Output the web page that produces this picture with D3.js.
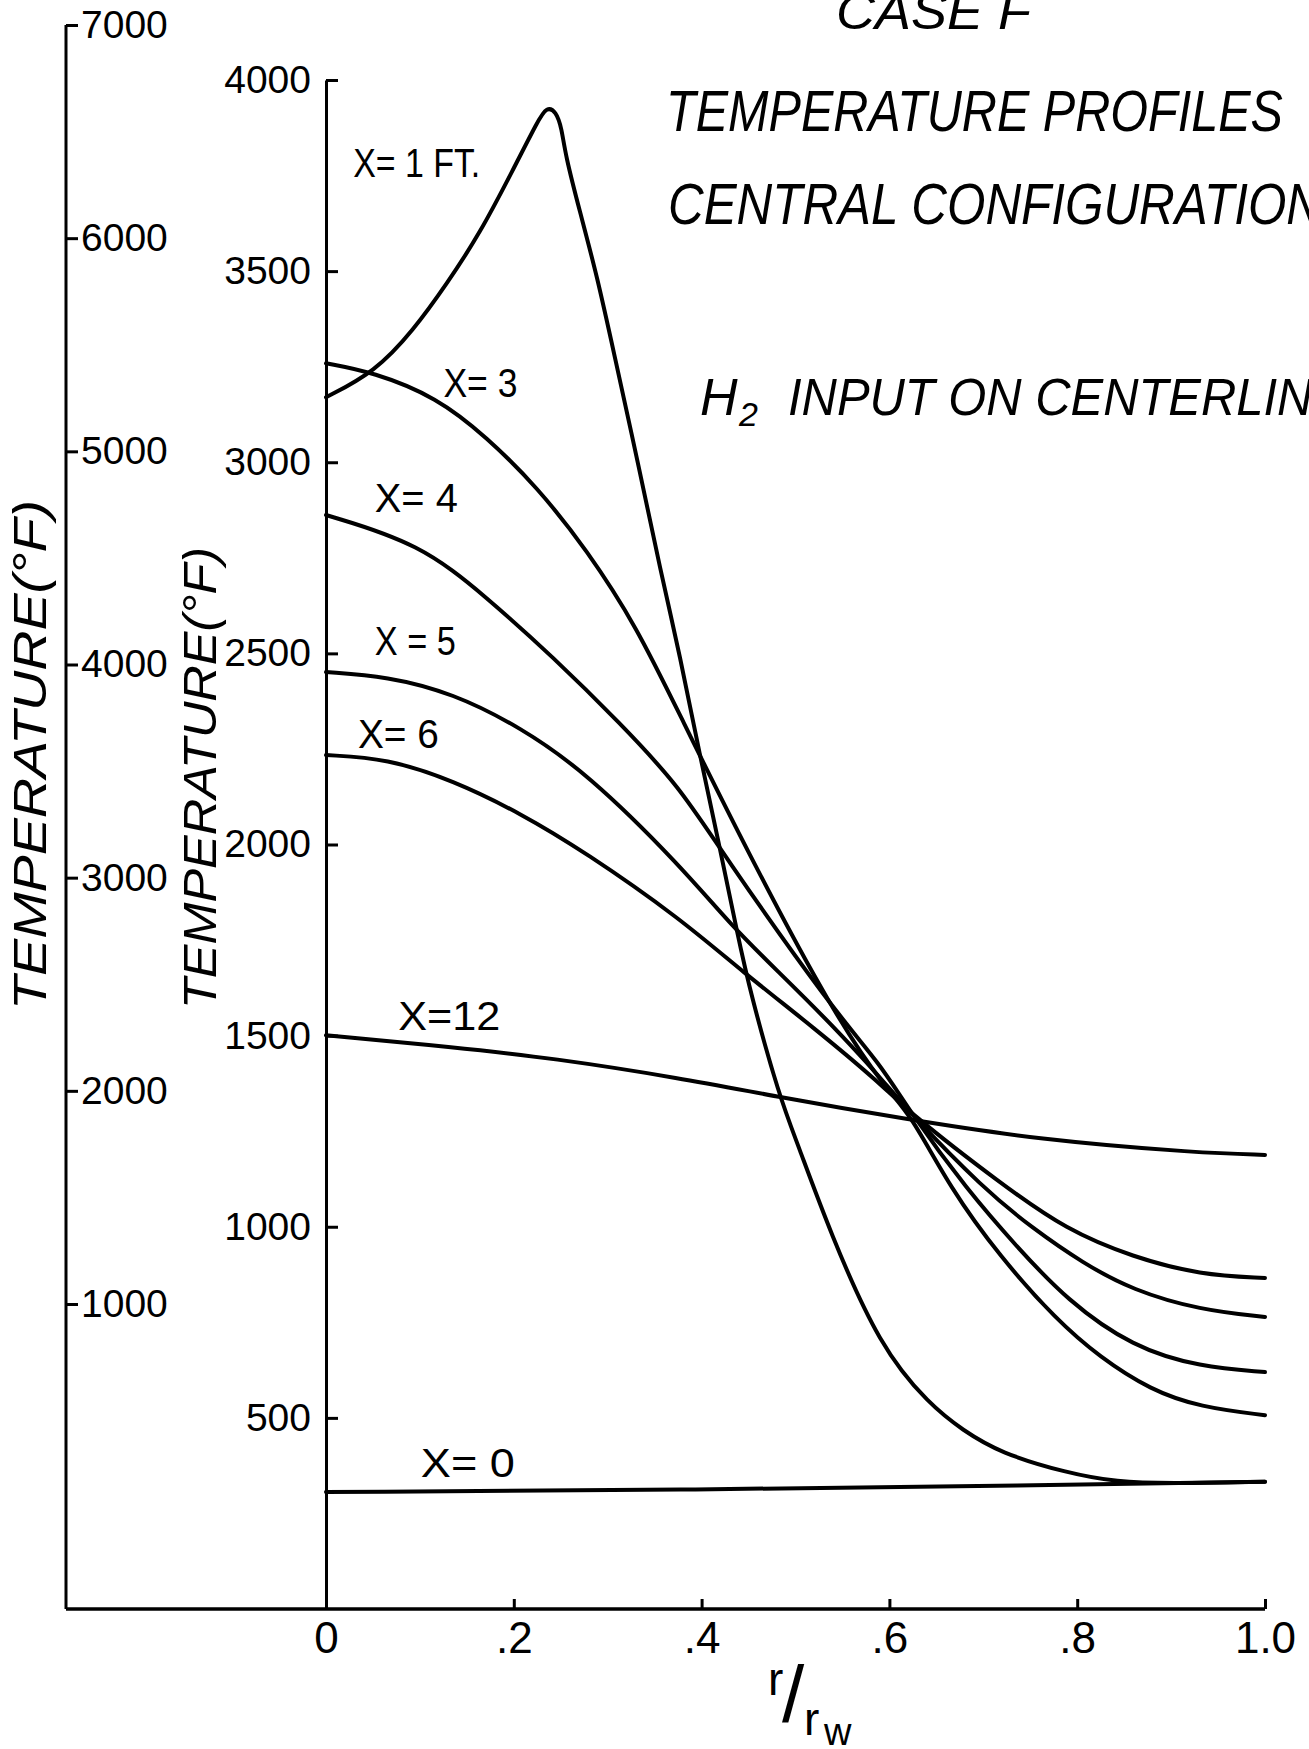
<!DOCTYPE html>
<html>
<head>
<meta charset="utf-8">
<script src="https://cdn.jsdelivr.net/npm/d3@7"></script>
<style>
  html, body { margin: 0; padding: 0; background: #fff; }
  svg { display: block; }
  text { font-family: "Liberation Sans", Arial, sans-serif; fill: #000; }
</style>
</head>
<body>
<svg id="chart"></svg>
<script>
// ---- data (r/rw, temperature in deg F on the inner scale) ----
const rX1 = [0, 0.052, 0.093, 0.129, 0.164, 0.199, 0.226, 0.235, 0.245, 0.251, 0.255, 0.27, 0.289, 0.306, 0.334, 0.356, 0.377, 0.398, 0.42, 0.438, 0.452, 0.483, 0.502, 0.537, 0.59, 0.643, 0.678, 0.718, 0.789, 0.842, 0.9, 1.0];
const tX1 = [3170, 3236, 3345, 3468, 3599, 3764, 3895, 3930, 3918, 3874, 3803, 3659, 3484, 3293, 2979, 2718, 2495, 2234, 1985, 1768, 1611, 1339, 1219, 984, 685, 534, 468, 408, 356, 332, 328, 333];

const rX3 = [0, 0.05, 0.118, 0.171, 0.225, 0.278, 0.331, 0.377, 0.448, 0.54, 0.597, 0.622, 0.665, 0.718, 0.778, 0.824, 0.878, 0.931, 1.0];
const tX3 = [3259, 3236, 3170, 3066, 2935, 2770, 2569, 2338, 1985, 1559, 1358, 1297, 1100, 921, 756, 659, 573, 528, 507];

const rX4 = [0, 0.1, 0.171, 0.242, 0.313, 0.377, 0.42, 0.54, 0.59, 0.622, 0.683, 0.736, 0.789, 0.859, 0.931, 1.0];
const tX4 = [2862, 2788, 2647, 2490, 2318, 2150, 1985, 1567, 1428, 1300, 1096, 947, 808, 685, 633, 620];

const rX5 = [0, 0.065, 0.135, 0.207, 0.278, 0.377, 0.433, 0.483, 0.537, 0.59, 0.622, 0.7, 0.753, 0.806, 0.859, 0.931, 1.0];
const tX5 = [2451, 2440, 2396, 2307, 2187, 1946, 1784, 1664, 1533, 1392, 1297, 1100, 995, 905, 834, 782, 764];

const rX6 = [0, 0.065, 0.135, 0.207, 0.276, 0.377, 0.444, 0.519, 0.59, 0.622, 0.718, 0.789, 0.859, 0.931, 1.0];
const tX6 = [2234, 2225, 2168, 2082, 1980, 1807, 1666, 1522, 1376, 1297, 1114, 991, 921, 874, 866];

const rX12 = [0, 0.135, 0.242, 0.377, 0.483, 0.611, 0.76, 0.931, 1.0];
const tX12 = [1501, 1470, 1441, 1389, 1339, 1284, 1227, 1193, 1188];

const rX0 = [0, 0.377, 0.76, 1.0];
const tX0 = [306, 311, 324, 333];

const seriesLabels = ["X= 1 FT.", "X= 3", "X= 4", "X = 5", "X= 6", "X=12", "X= 0"];
// label anchors in data units (r/rw, deg F)
const labelR = [0.029, 0.125, 0.052, 0.052, 0.034, 0.077, 0.101];
const labelT = [3746, 3170, 2869, 2495, 2252, 1515, 345];

const xTicks = [0, 0.2, 0.4, 0.6, 0.8, 1.0];
const xTickLabels = ["0", ".2", ".4", ".6", ".8", "1.0"];
const innerTicks = [500, 1000, 1500, 2000, 2500, 3000, 3500, 4000];
const outerTicks = [1000, 2000, 3000, 4000, 5000, 6000, 7000];

// ---- layout ----
const width = 1309;
const height = 1749;
const outerX = 66;
const font = '"Liberation Sans", Arial, sans-serif';

const svg = d3.select("#chart").attr("width", width).attr("height", height);
svg.append("rect").attr("width", width).attr("height", height).attr("fill", "#fff");

const x = d3.scaleLinear().domain([0, 1]).range([326, 1265]);
const y = d3.scaleLinear().domain([0, 4000]).range([1609, 80]);
const yOuter = d3.scaleLinear().domain([1000, 7000]).range([1304, 25]);

// outer axis
svg.append("line")
  .attr("x1", outerX).attr("x2", outerX)
  .attr("y1", yOuter(7000)).attr("y2", y(0))
  .attr("stroke", "#000").attr("stroke-width", 3);

svg.append("g")
  .attr("transform", `translate(${outerX},0)`)
  .call(d3.axisRight(yOuter).tickValues(outerTicks).tickFormat(d3.format("d")).tickSize(12).tickPadding(3))
  .call((g) => g.select(".domain").remove())
  .call((g) => g.selectAll(".tick line").attr("stroke-width", 3))
  .attr("font-size", 39)
  .attr("font-family", font);

// inner axis
svg.append("g")
  .attr("transform", `translate(${x(0)},0)`)
  .call(
    d3.axisLeft(y)
      .tickValues(innerTicks)
      .tickFormat(d3.format("d"))
      .tickSizeInner(-12)
      .tickSizeOuter(0)
      .tickPadding(15)
  )
  .call((g) => g.select(".domain").attr("stroke-width", 3))
  .call((g) => g.selectAll(".tick line").attr("stroke-width", 3))
  .attr("font-size", 39)
  .attr("font-family", font);

// x axis
svg.append("line")
  .attr("x1", outerX).attr("x2", x(1))
  .attr("y1", y(0)).attr("y2", y(0))
  .attr("stroke", "#000").attr("stroke-width", 3.5);

svg.append("g")
  .attr("transform", `translate(0,${y(0)})`)
  .call(
    d3.axisBottom(x)
      .tickValues(xTicks)
      .tickFormat((d, i) => xTickLabels[i])
      .tickSizeInner(-10)
      .tickSizeOuter(0)
      .tickPadding(13)
  )
  .call((g) => g.select(".domain").remove())
  .call((g) => g.selectAll(".tick line").attr("stroke-width", 3))
  .attr("font-size", 44)
  .attr("font-family", font);

// curves
const series = [
  [rX1, tX1], [rX3, tX3], [rX4, tX4], [rX5, tX5], [rX6, tX6], [rX12, tX12], [rX0, tX0]
].map(([rs, ts]) => rs.map((r, i) => [r, ts[i]]));

const line = d3.line()
  .x((d) => x(d[0]))
  .y((d) => y(d[1]))
  .curve(d3.curveBasis);

svg.append("g")
  .selectAll("path")
  .data(series)
  .join("path")
  .attr("fill", "none")
  .attr("stroke", "#000")
  .attr("stroke-width", 4)
  .attr("stroke-linecap", "round")
  .attr("stroke-linejoin", "round")
  .attr("d", line);

// curve labels
const labelWidths = [127, 74, 83, 81, 81, 102, 94];
svg.append("g")
  .selectAll("text")
  .data(seriesLabels)
  .join("text")
  .attr("x", (d, i) => x(labelR[i]))
  .attr("y", (d, i) => y(labelT[i]))
  .attr("font-size", 40)
  .attr("textLength", (d, i) => labelWidths[i])
  .attr("lengthAdjust", "spacingAndGlyphs")
  .text((d) => d);

// titles
function title(str, tx, ty, size, len) {
  svg.append("text")
    .attr("x", tx).attr("y", ty)
    .attr("font-size", size)
    .attr("font-style", "italic")
    .attr("textLength", len)
    .attr("lengthAdjust", "spacingAndGlyphs")
    .text(str);
}
title("CASE F", 836, 29, 50, 195);
title("TEMPERATURE PROFILES", 666, 131, 58, 617);
title("CENTRAL CONFIGURATION", 668, 224, 58, 654);

svg.append("text").attr("x", 700).attr("y", 415).attr("font-size", 52)
  .attr("font-style", "italic").text("H");
svg.append("text").attr("x", 739).attr("y", 426).attr("font-size", 34)
  .attr("font-style", "italic").text("2");
title("INPUT ON CENTERLINE", 788, 415, 52, 557);

// y axis titles
svg.append("text")
  .attr("transform", "translate(46,755) rotate(-90)")
  .attr("text-anchor", "middle")
  .attr("font-size", 46)
  .attr("font-style", "italic")
  .attr("textLength", 510)
  .attr("lengthAdjust", "spacingAndGlyphs")
  .text("TEMPERATURE(°F)");

svg.append("text")
  .attr("transform", "translate(216,778) rotate(-90)")
  .attr("text-anchor", "middle")
  .attr("font-size", 46)
  .attr("font-style", "italic")
  .attr("textLength", 462)
  .attr("lengthAdjust", "spacingAndGlyphs")
  .text("TEMPERATURE(°F)");

// x axis title r/rw
svg.append("text").attr("x", 768).attr("y", 1695).attr("font-size", 46).text("r");
svg.append("text").attr("x", 782).attr("y", 1722).attr("font-size", 80).text("/");
svg.append("text").attr("x", 804).attr("y", 1735).attr("font-size", 46).text("r");
svg.append("text").attr("x", 824).attr("y", 1745).attr("font-size", 38).text("w");
</script>
</body>
</html>
